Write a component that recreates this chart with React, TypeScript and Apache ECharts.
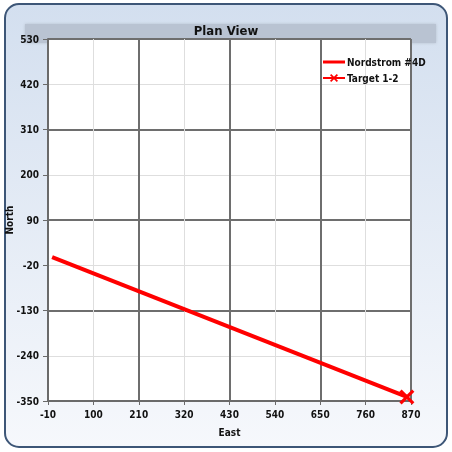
import React, { useEffect, useRef } from "react";
import * as echarts from "echarts";

// Axis ranges and tick steps (labels every 110, heavy grid every 220)
const EAST_MIN = -10;
const EAST_MAX = 870;
const NORTH_MIN = -350;
const NORTH_MAX = 530;
const LABEL_STEP = 110;
const MAJOR_STEP = 220;

// Well path (Nordstrom #4D)
const wellEast = [0, 860];
const wellNorth = [0, -340];

// Target 1-2
const targetEast = [860];
const targetNorth = [-340];

const seriesNames = ["Nordstrom #4D", "Target 1-2"];
const titleText = "Plan View";
const xAxisName = "East";
const yAxisName = "North";

const FONT = "'DejaVu Sans Condensed', 'DejaVu Sans', sans-serif";
const X_MARK =
  "path://M3,0 L10,7 L17,0 L20,3 L13,10 L20,17 L17,20 L10,13 L3,20 L0,17 L7,10 L0,3 Z";
// thin bar icon inside a 22x10 box (corner points keep the box size)
const BAR_ICON = "path://M0,0 L0,0 M0,3.5 L22,3.5 L22,6.5 L0,6.5 Z M22,10 L22,10";

export default function App() {
  const ref = useRef<HTMLDivElement>(null);
  useEffect(() => {
    if (!ref.current) return;
    const chart = echarts.init(ref.current, null, { renderer: "svg" });
    const xSpan = EAST_MAX - EAST_MIN;
    const ySpan = NORTH_MAX - NORTH_MIN;
    const toPt = (e: number, n: number) => [e - EAST_MIN, n - NORTH_MIN];
    const lightSplit = { show: true, lineStyle: { color: "#dedede", width: 1 } };
    const darkSplit = { show: true, lineStyle: { color: "#6e6e6e", width: 2 } };
    const labelStyle = { fontFamily: FONT, fontWeight: "bold" as const, fontSize: 10, color: "#111" };

    chart.setOption({
      animation: false,
      graphic: [
        {
          type: "rect",
          z: -10,
          silent: true,
          shape: { x: 5, y: 4, width: 442, height: 443, r: 14 },
          style: {
            fill: {
              type: "linear", x: 0, y: 0, x2: 0, y2: 1,
              colorStops: [
                { offset: 0, color: "#d3dfef" },
                { offset: 1, color: "#f6f8fc" },
              ],
            },
            stroke: "#3d5677",
            lineWidth: 2,
          },
        },
        {
          type: "rect",
          z: -9,
          silent: true,
          shape: { x: 25, y: 24, width: 411, height: 19 },
          style: { fill: "#b9c3d2", shadowBlur: 3, shadowColor: "rgba(0,0,0,0.15)" },
        },
      ],
      title: {
        text: titleText,
        left: "center",
        top: 24,
        padding: 0,
        textStyle: { fontFamily: FONT, fontWeight: "bold", fontSize: 13, color: "#111" },
      },
      legend: {
        orient: "vertical",
        left: 322,
        top: 57,
        itemWidth: 22,
        itemHeight: 10,
        itemGap: 6,
        padding: 0,
        data: [
          { name: seriesNames[0], icon: BAR_ICON },
          { name: seriesNames[1] },
        ],
        textStyle: { ...labelStyle, fontSize: 10, padding: [0, 0, 0, -3] },
      },
      grid: {
        left: 48,
        right: 41,
        top: 39,
        bottom: 51,
        show: true,
        backgroundColor: "#ffffff",
        borderWidth: 0,
        containLabel: false,
        outerBoundsMode: "none",
      },
      xAxis: [
        {
          type: "value",
          position: "bottom",
          min: 0,
          max: xSpan,
          interval: LABEL_STEP,
          name: xAxisName,
          nameLocation: "middle",
          nameGap: 26,
          nameMoveOverlap: false,
          nameTextStyle: labelStyle,
          axisLine: { show: true, lineStyle: { color: "#6a6a6a", width: 2 } },
          axisTick: { show: true, length: 4, lineStyle: { color: "#6a6a6a" } },
          axisLabel: { ...labelStyle, margin: 8, formatter: (v: number) => String(v + EAST_MIN) },
          splitLine: lightSplit,
        },
        {
          type: "value",
          position: "bottom",
          min: 0,
          max: xSpan,
          interval: MAJOR_STEP,
          axisLine: { show: false },
          axisTick: { show: false },
          axisLabel: { show: false },
          splitLine: darkSplit,
        },
      ],
      yAxis: [
        {
          type: "value",
          position: "left",
          min: 0,
          max: ySpan,
          interval: LABEL_STEP,
          name: yAxisName,
          nameLocation: "middle",
          nameGap: 34,
          nameRotate: 90,
          nameMoveOverlap: false,
          nameTextStyle: labelStyle,
          axisLine: { show: true, lineStyle: { color: "#6a6a6a", width: 2 } },
          axisTick: { show: true, length: 5, lineStyle: { color: "#6a6a6a" } },
          axisLabel: { ...labelStyle, margin: 9, formatter: (v: number) => String(v + NORTH_MIN) },
          splitLine: lightSplit,
        },
        {
          type: "value",
          position: "left",
          min: 0,
          max: ySpan,
          interval: MAJOR_STEP,
          axisLine: { show: false },
          axisTick: { show: false },
          axisLabel: { show: false },
          splitLine: darkSplit,
        },
      ],
      series: [
        {
          name: seriesNames[0],
          type: "line",
          xAxisIndex: 0,
          yAxisIndex: 0,
          symbol: "none",
          color: "#ff0000",
          lineStyle: { color: "#ff0000", width: 4 },
          data: wellEast.map((e, i) => toPt(e, wellNorth[i])),
          z: 5,
        },
        {
          name: seriesNames[1],
          type: "line",
          xAxisIndex: 0,
          yAxisIndex: 0,
          symbol: X_MARK,
          symbolSize: 15,
          showSymbol: true,
          color: "#ff0000",
          itemStyle: { color: "#ff0000" },
          lineStyle: { color: "#ff0000", width: 3 },
          data: targetEast.map((e, i) => toPt(e, targetNorth[i])),
          z: 6,
        },
      ],
    });
    return () => chart.dispose();
  }, []);
  return (
    <div
      ref={ref}
      style={{ position: "fixed", left: 0, top: 0, width: 452, height: 452 }}
    />
  );
}
